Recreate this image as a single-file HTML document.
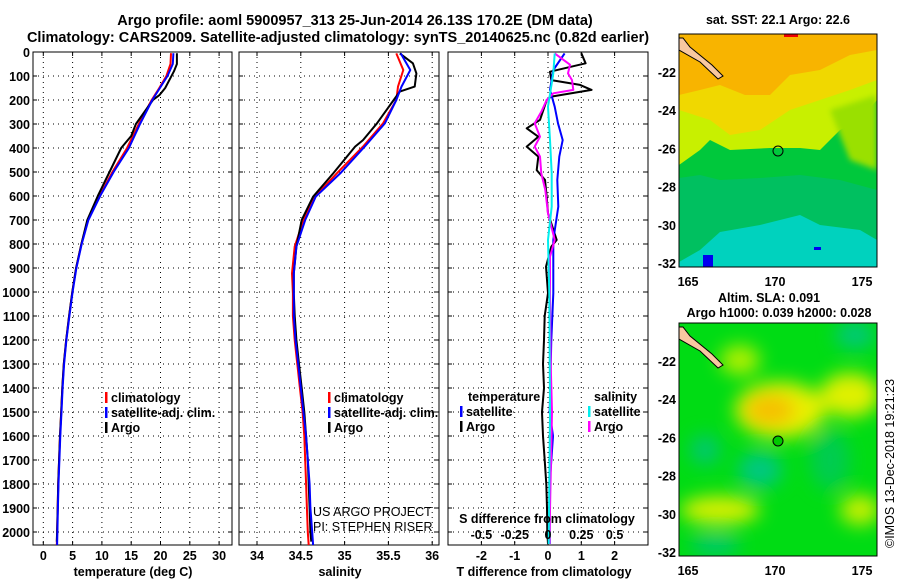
<!DOCTYPE html>
<html><head><meta charset="utf-8"><style>
body{margin:0;background:#fff}
svg{display:block;font-family:"Liberation Sans",sans-serif;font-weight:bold}
.t{font-size:12.5px}
</style></head><body>
<svg id="s" width="900" height="580" viewBox="0 0 900 580">
<defs>
<filter id="bl" x="-20%" y="-20%" width="140%" height="140%"><feGaussianBlur stdDeviation="9"/></filter>
<filter id="bl2"><feGaussianBlur stdDeviation="3"/></filter>
<clipPath id="c1"><rect x="679" y="34" width="198" height="233"/></clipPath>
<clipPath id="c2"><rect x="679" y="323" width="198" height="233"/></clipPath>
</defs>
<text x="355" y="25" text-anchor="middle" font-size="14.5">Argo profile: aoml 5900957_313 25-Jun-2014 26.13S 170.2E (DM data)</text>
<text x="338" y="42" text-anchor="middle" font-size="14.5">Climatology: CARS2009. Satellite-adjusted climatology: synTS_20140625.nc (0.82d earlier)</text>
<g id="g"></g>

<!-- SST map -->
<g clip-path="url(#c1)">
<rect x="679" y="34" width="198" height="233" fill="#00d2be"/>
<path d="M679,34H877V240L860,230L820,225L800,215L760,225L720,232L700,250L679,262Z" fill="#00c060"/>
<path d="M679,34H877V190L840,180L800,175L760,178L720,180L700,175L679,178Z" fill="#00c83c"/>
<path d="M679,34H877V100L860,120L840,130L820,150L800,148L770,148L730,150L710,140L700,150L679,165Z" fill="#c8f000"/>
<path d="M679,34H877V80L850,90L820,100L790,110L760,130L730,135L710,120L679,110Z" fill="#f0d800"/>
<path d="M679,34H877V50L850,55L820,70L790,75L770,95L745,95L720,85L700,90L679,95Z" fill="#f8b400"/>
<path d="M830,110L877,95V170L850,160Z" fill="#9ae000" filter="url(#bl2)"/>
<path d="M679,38L679,50L700,62L718,79L723,76L712,65L690,47L683,38Z" fill="#f8c8a0" stroke="#000" stroke-width="1"/>
<rect x="703" y="255" width="10" height="12" fill="#0000f0"/>
<rect x="814" y="247" width="7" height="3" fill="#0000f0"/>
<rect x="784" y="34" width="14" height="3" fill="#f00000"/>
</g>
<rect x="679" y="34" width="198" height="233" fill="none" stroke="#000"/>
<circle cx="778" cy="151" r="5" fill="none" stroke="#000"/>
<text x="778" y="24" text-anchor="middle" class="t">sat. SST: 22.1 Argo: 22.6</text>

<!-- SLA map -->
<g clip-path="url(#c2)">
<rect x="679" y="323" width="198" height="233" fill="#00dc14"/>
<g filter="url(#bl)">
<ellipse cx="780" cy="410" rx="45" ry="28" fill="#e8f000"/>
<ellipse cx="770" cy="410" rx="25" ry="16" fill="#f5c000"/>
<ellipse cx="850" cy="395" rx="30" ry="22" fill="#e0f000"/>
<ellipse cx="740" cy="360" rx="20" ry="15" fill="#b0f000"/>
<ellipse cx="720" cy="510" rx="40" ry="14" fill="#d8f000"/>
<ellipse cx="860" cy="510" rx="20" ry="15" fill="#c8f000"/>
<ellipse cx="760" cy="470" rx="22" ry="18" fill="#00c880"/>
<ellipse cx="705" cy="450" rx="15" ry="15" fill="#00c86e"/>
<ellipse cx="855" cy="335" rx="20" ry="14" fill="#00c878"/>
<ellipse cx="715" cy="545" rx="25" ry="10" fill="#00c870"/>
<ellipse cx="830" cy="460" rx="20" ry="30" fill="#00cc50"/>
</g>
<path d="M679,38L679,50L700,62L718,79L723,76L712,65L690,47L683,38Z" transform="translate(0,289)" fill="#f8c8a0" stroke="#000" stroke-width="1"/>
</g>
<rect x="679" y="323" width="198" height="233" fill="none" stroke="#000"/>
<circle cx="778" cy="441" r="5" fill="#00c800" stroke="#000"/>
<text x="769" y="302" text-anchor="middle" class="t">Altim. SLA: 0.091</text>
<text x="779" y="317" text-anchor="middle" class="t">Argo h1000: 0.039 h2000: 0.028</text>
<text x="0" y="0" transform="translate(894,548) rotate(-90)" font-size="12.5" font-weight="normal">©IMOS 13-Dec-2018 19:21:23</text>
</svg>
<script>
// ---------- data ----------
const depthTicks=[0,100,200,300,400,500,600,700,800,900,1000,1100,1200,1300,1400,1500,1600,1700,1800,1900,2000];
const tempTicks=[0,5,10,15,20,25,30];
const salTicks=[34,34.5,35,35.5,36];
const salTickLabels=["34","34.5","35","35.5","36"];
const tdiffTicks=[-2,-1,0,1,2];
const sdiffTicks=[-0.5,-0.25,0,0.25,0.5];
const sdiffTickLabels=["-0.5","-0.25","0","0.25","0.5"];
const latTicks=[-22,-24,-26,-28,-30,-32];
const lonTicks=[165,170,175];

const tClimD=[5,50,100,150,200,300,400,500,600,700,800,900,1000,1100,1200,1300,1400,1500,1600,1700,1800,1900,2000,2058];
const tClimV=[21.8,21.7,21.0,19.8,18.5,16.3,14.3,11.8,9.6,7.6,6.5,5.6,4.95,4.4,3.9,3.5,3.25,3.05,2.85,2.7,2.55,2.45,2.35,2.3];
const tSatD=[5,50,100,150,200,300,400,500,600,700,800,900,1000,1100,1200,1300,1400,1500,1600,1700,1800,1900,2000,2058];
const tSatV=[22.2,22.1,21.2,19.9,18.6,16.5,14.6,12.0,9.7,7.7,6.55,5.65,5.0,4.45,3.95,3.55,3.3,3.1,2.9,2.75,2.6,2.5,2.4,2.35];
const tArgoD=[5,50,80,150,180,200,300,350,400,500,600,700,800,900,1000,1100,1200,1300,1400,1500,1600,1700,1800,1900,2000,2040];
const tArgoV=[22.8,22.8,22.3,20.8,19.8,18.7,15.8,15.0,13.3,11.3,9.3,7.5,6.5,5.6,4.95,4.4,3.9,3.5,3.25,3.05,2.85,2.7,2.55,2.45,2.35,2.3];

const sClimD=[6,75,144,200,297,394,506,603,700,811,922,1006,1100,1200,1300,1400,1500,1600,1700,1800,1900,2000,2058];
const sClimV=[35.59,35.67,35.61,35.59,35.44,35.21,34.91,34.66,34.53,34.43,34.40,34.41,34.41,34.43,34.46,34.49,34.52,34.54,34.55,34.56,34.57,34.58,34.59];
const sSatD=[6,75,144,200,297,394,506,603,700,811,922,1006,1100,1200,1300,1400,1500,1600,1700,1800,1900,2000,2058];
const sSatV=[35.64,35.75,35.65,35.59,35.46,35.23,34.95,34.67,34.55,34.45,34.42,34.42,34.42,34.44,34.47,34.50,34.53,34.56,34.58,34.60,34.61,34.63,34.64];
const sArgoD=[6,47,89,144,165,200,297,367,394,506,603,700,811,922,1006,1100,1200,1300,1400,1500,1600,1700,1800,1900,2000,2040];
const sArgoV=[35.63,35.78,35.82,35.80,35.63,35.56,35.37,35.21,35.12,34.87,34.64,34.51,34.45,34.42,34.42,34.43,34.45,34.48,34.51,34.54,34.56,34.58,34.59,34.60,34.61,34.62];

const dTArgoD=[5,47,82,117,137,158,186,200,283,318,353,394,436,492,533,603,672,783,811,894,1005,1100,1200,1300,1400,1500,1600,1700,1800,1900,2000,2050];
const dTArgoV=[1.0,1.13,0.06,0.1,0.96,1.31,0.1,-0.04,-0.24,-0.64,-0.29,-0.64,-0.29,-0.34,-0.09,-0.04,0,0.26,0.1,-0.06,0,-0.1,-0.12,-0.15,-0.12,-0.18,-0.15,-0.1,-0.05,-0.03,-0.02,0];
const dTSatD=[6,75,158,228,297,367,436,533,644,783,1006,1200,1500,1600,1800,2050];
const dTSatV=[0.5,0.16,0.06,0.2,0.3,0.44,0.34,0.28,0.31,0.16,0.16,0.1,0.05,0.15,0.05,0.05];
const dSArgoD=[6,53,89,117,158,172,200,249,297,353,394,436,506,575,672,783,853,1006,1300,1500,2050];
const dSArgoV=[0.05,0.165,0.15,0.18,0.19,0.04,-0.01,-0.05,-0.1,-0.06,-0.1,-0.06,-0.05,-0.02,0,0.05,0.015,0.015,0.02,0.03,0.01];
const dSSatD=[6,89,228,367,506,644,783,1006,1500,2050];
const dSSatV=[0.05,0.04,0,0.015,0.028,0.028,0,0.01,0.015,0.005];

// ---------- layout ----------
const TOP=52,BOT=545,DMAX=(BOT-TOP)/0.24;
const y=d=>TOP+d*0.24;
const P1={l:33,r:232,x:v=>43.3+v*5.86};
const P2={l:239,r:439,x:v=>257+(v-34)*87.6};
const P3={l:448,r:648,x:v=>548+v*33.3};
const xs=v=>548+v*133.2;
const NS="http://www.w3.org/2000/svg";
const G=document.getElementById('g');
function mk(tag,at,parent){const e=document.createElementNS(NS,tag);for(const k in at)e.setAttribute(k,at[k]);(parent||G).appendChild(e);return e;}
function txt(x,yy,s,anchor,cls){const e=mk('text',{x:x,y:yy,'text-anchor':anchor||'middle','class':cls||'t'});e.textContent=s;return e;}

function frame(P,name){
  const f=mk('rect',{x:P.l,y:TOP,width:P.r-P.l,height:BOT-TOP,fill:'none',stroke:'#000','stroke-width':1});
  
  
  depthTicks.forEach(d=>{
    if(d===0)return;
    const l=mk('line',{x1:P.l,x2:P.r,y1:y(d),y2:y(d),stroke:'#000','stroke-dasharray':'1,4','stroke-width':1});
    
    
    mk('line',{x1:P.l,x2:P.l+4,y1:y(d),y2:y(d),stroke:'#000'});
    mk('line',{x1:P.r-4,x2:P.r,y1:y(d),y2:y(d),stroke:'#000'});
  });
}
function vgrid(P,ticks,fx,labels,name){
  ticks.forEach((t,i)=>{
    const X=fx(t);
    const l=mk('line',{x1:X,x2:X,y1:TOP,y2:BOT,stroke:'#000','stroke-dasharray':'1,4'});
    
    
    mk('line',{x1:X,x2:X,y1:BOT-4,y2:BOT,stroke:'#000'});
    mk('line',{x1:X,x2:X,y1:TOP,y2:TOP+4,stroke:'#000'});
    if(labels){const tx=txt(X,560,labels[i]);
      
      }
  });
}
function line(D,V,fx,color,name,w){
  const pts=D.map((d,i)=>fx(V[i]).toFixed(1)+','+y(Math.min(d,DMAX)).toFixed(1)).join(' ');
  const p=mk('polyline',{points:pts,fill:'none',stroke:color,'stroke-width':w||2,'stroke-linejoin':'round'});
  
  
}
function legend(x,yy,color,label,name){
  const r=mk('rect',{x:x,y:yy-10,width:2.5,height:11,fill:color});
  
  
  const t=txt(x+6,yy,label,'start');
  
  
}

// panel 1
frame(P1,'temperature-panel');
vgrid(P1,tempTicks,P1.x,tempTicks.map(String),'temperature-x');
depthTicks.forEach(d=>{const t=txt(30,y(d)+5,String(d),'end');
  
  });
line(tClimD,tClimV,P1.x,'#f00','temp-climatology-line');
line(tArgoD,tArgoV,P1.x,'#000','temp-argo-line');
line(tSatD,tSatV,P1.x,'#00f','temp-satellite-line');
legend(105,402,'#f00','climatology','temp-legend-climatology');
legend(105,417,'#00f','satellite-adj. clim.','temp-legend-satellite');
legend(105,432,'#000','Argo','temp-legend-argo');
let at=txt(133,576,'temperature (deg C)');

// panel 2
frame(P2,'salinity-panel');
vgrid(P2,salTicks,P2.x,salTickLabels,'salinity-x');
line(sClimD,sClimV,P2.x,'#f00','sal-climatology-line');
line(sArgoD,sArgoV,P2.x,'#000','sal-argo-line');
line(sSatD,sSatV,P2.x,'#00f','sal-satellite-line');
legend(328,402,'#f00','climatology','sal-legend-climatology');
legend(328,417,'#00f','satellite-adj. clim.','sal-legend-satellite');
legend(328,432,'#000','Argo','sal-legend-argo');
at=txt(340,576,'salinity');
let c1=txt(313,516,'US ARGO PROJECT','start');c1.setAttribute('font-weight','normal');
let c2=txt(313,531,'PI: STEPHEN RISER','start');c2.setAttribute('font-weight','normal');

// panel 3
frame(P3,'difference-panel');
vgrid(P3,tdiffTicks,P3.x,tdiffTicks.map(String),'tdiff-x');
line(dTArgoD,dTArgoV,P3.x,'#000','tdiff-argo-line');
line(dTSatD,dTSatV,P3.x,'#00f','tdiff-satellite-line');
line(dSArgoD,dSArgoV,xs,'#f0f','sdiff-argo-line');
line(dSSatD,dSSatV,xs,'#0ee','sdiff-satellite-line');
let lt=txt(468,401,'temperature','start');
legend(460,416,'#00f','satellite','diff-legend-temp-satellite');
legend(460,431,'#000','Argo','diff-legend-temp-argo');
let ls=txt(594,401,'salinity','start');
legend(588,416,'#0ee','satellite','diff-legend-sal-satellite');
legend(588,431,'#f0f','Argo','diff-legend-sal-argo');
let st=txt(547,523,'S difference from climatology');
sdiffTicks.forEach((s,i)=>{const t=txt(xs(s),539,sdiffTickLabels[i]);
  
  });
at=txt(544,576,'T difference from climatology');

// map axes
function mapAxes(top,name){
  latTicks.forEach(lat=>{
    const Y=top+38+(-lat-22)*19.1;
    mk('line',{x1:679,x2:683,y1:Y,y2:Y,stroke:'#000'});
    mk('line',{x1:873,x2:877,y1:Y,y2:Y,stroke:'#000'});
    const t=txt(676,Y+5,String(lat),'end');
    
    
  });
  lonTicks.forEach(lon=>{
    const X=688+(lon-165)*17.4;
    mk('line',{x1:X,x2:X,y1:top+229,y2:top+233,stroke:'#000'});
    mk('line',{x1:X,x2:X,y1:top,y2:top+4,stroke:'#000'});
    const t=txt(X,top+252,String(lon));
    
    
  });
}
mapAxes(34,'sst-map');
mapAxes(323,'sla-map');
</script>
</body></html>
